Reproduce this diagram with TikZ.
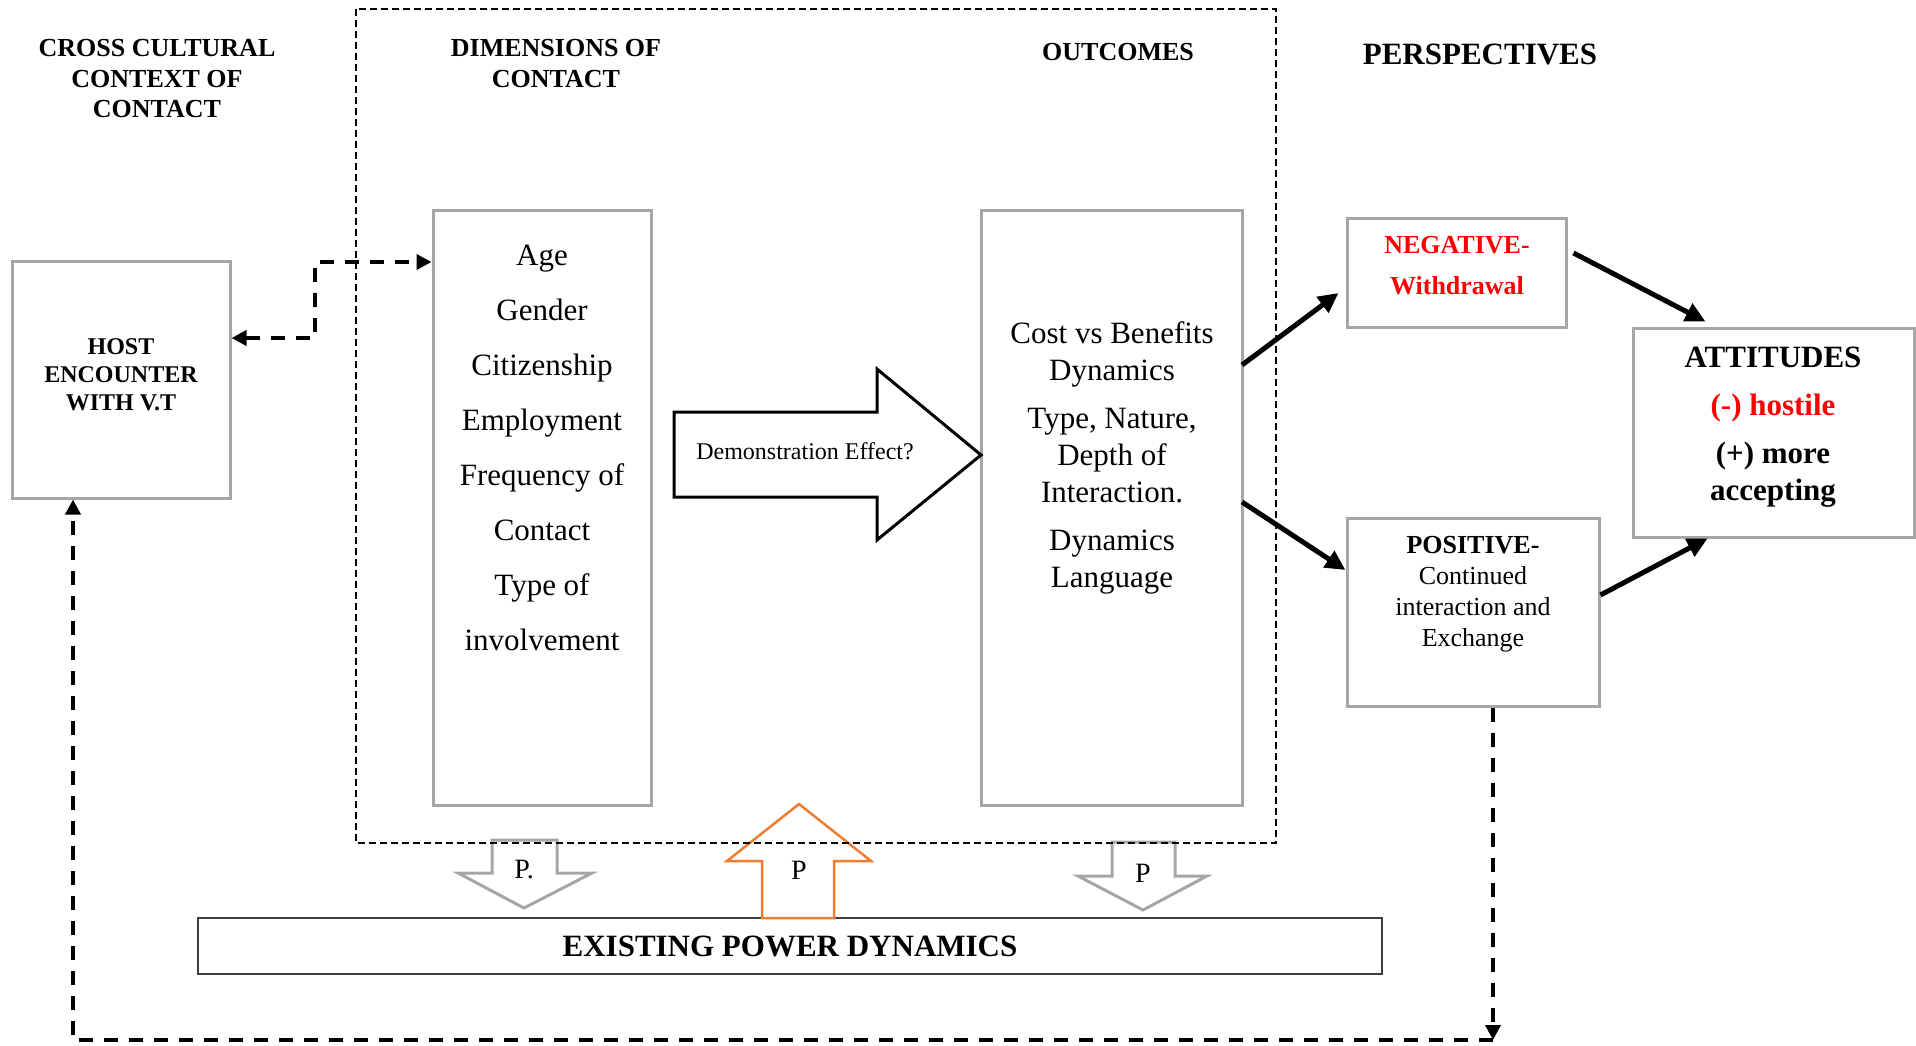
\documentclass[tikz,border=0pt]{standalone}
\usepackage{fontspec}
\setmainfont{Liberation Serif}
\usetikzlibrary{arrows.meta}
\definecolor{boxgray}{HTML}{A6A6A6}
\definecolor{negred}{HTML}{FF0000}
\definecolor{porange}{HTML}{ED7D31}
\definecolor{edgegray}{HTML}{404040}

\begin{document}
\begin{tikzpicture}[x=1pt, y=-1pt,
    gbox/.style={draw=boxgray, line width=3pt, inner sep=0pt, align=center},
    head/.style={font=\bfseries\fontsize{26}{30.5}\selectfont, align=center},
    big/.style={font=\fontsize{31}{37}\selectfont, align=center},
    link/.style={line width=4.5pt, dash pattern=on 14pt off 11pt, >={Triangle[length=15pt,width=15pt]}},
    flow/.style={line width=5pt, ->, >={Triangle[length=20pt,width=19pt]}},
    plabel/.style={font=\fontsize{28}{30}\selectfont}]

\useasboundingbox (0,0) rectangle (1916,1045);

% column headings
\node[head] (hcross) at (157,79) {CROSS CULTURAL\\CONTEXT OF\\CONTACT};
\node[head] (hdim) at (556,63.5) {DIMENSIONS OF\\CONTACT};
\node[head] (hout) at (1118,52) {OUTCOMES};
\node[head, font=\bfseries\fontsize{31}{36}\selectfont] (hpersp) at (1480,54) {PERSPECTIVES};

% boxes
\node[gbox, minimum width=218pt, minimum height=237pt] (host) at (121,379.5) {};
\node[align=center, font=\bfseries\fontsize{24}{28}\selectfont] (hosttext) at (121,375)
  {HOST\\ENCOUNTER\\WITH V.T};
\node[gbox, minimum width=218pt, minimum height=595pt] (dim) at (542,507.5) {};
\node[big, font=\fontsize{31}{55}\selectfont] (dimtext) at (542,447.5)
  {Age\\Gender\\Citizenship\\Employment\\Frequency of\\Contact\\Type of\\involvement};
\node[gbox, minimum width=261pt, minimum height=595pt] (outbox) at (1112,507.5) {};
\node[big] (outtext) at (1112,458)
  {Cost vs Benefits\\Dynamics\\[11pt]Type, Nature,\\Depth of\\Interaction.\\[11pt]Dynamics\\Language};
\node[gbox, minimum width=219pt, minimum height=109pt] (neg) at (1456.5,272.5) {};
\node[align=center, text=negred, font=\bfseries\fontsize{26}{41}\selectfont] (negtext) at (1457,265.5)
  {NEGATIVE-\\Withdrawal};
\node[gbox, minimum width=252pt, minimum height=188pt] (pos) at (1473,612) {};
\node[align=center, font=\fontsize{26}{31}\selectfont] (postext) at (1473,594)
  {\textbf{POSITIVE-}\\Continued\\interaction and\\Exchange};
\node[gbox, minimum width=281pt, minimum height=209pt] (att) at (1773.5,432.5) {};
\node[big, font=\bfseries\fontsize{31}{37}\selectfont] (atttext) at (1773,427.5)
  {ATTITUDES\\[11pt]{\color{negred}(-) hostile}\\[11pt](+) more\\accepting};
\node[draw=edgegray, line width=2pt, minimum width=1184pt, minimum height=56pt,
  font=\bfseries\fontsize{31}{36}\selectfont] (power) at (790,946) {EXISTING POWER DYNAMICS};

% demonstration effect arrow
\draw[line width=3pt] (674,412) -- (877,412) -- (877,369) -- (981,455) -- (877,540)
  -- (877,497) -- (674,497) -- cycle;
\node[font=\fontsize{24}{28}\selectfont] (demo) at (805,451) {Demonstration Effect?};

% P arrows
\draw[draw=boxgray, line width=3pt] (492,840) -- (557,840) -- (557,873) -- (592,873)
  -- (524,908) -- (458,873) -- (492,873) -- cycle;
\node[plabel] (p1) at (524,870) {P.};
\draw[draw=porange, line width=2.5pt] (762,918) -- (762,861) -- (727,861) -- (799,804)
  -- (871,861) -- (834,861) -- (834,918) -- cycle;
\node[plabel] (p2) at (799,870) {P};
\draw[draw=boxgray, line width=3pt] (1112,842) -- (1175,842) -- (1175,876) -- (1207,876)
  -- (1143,910) -- (1078,876) -- (1112,876) -- cycle;
\node[plabel] (p3) at (1143,873) {P};

% dimensions of contact frame
\draw[line width=2pt, dash pattern=on 7pt off 4pt] (356,9) rectangle (1276,843);

% connectors
\coordinate (hbend) at (315,300);
\draw[link,<->] ([yshift=41.5pt]host.east) -| (hbend) |- ([yshift=245.5pt]dim.west);
\draw[flow] ([yshift=142.5pt,xshift=-2pt]outbox.east) -- ([xshift=-7pt,yshift=-20.5pt]neg.west);
\draw[flow] ([yshift=5.5pt,xshift=-2pt]outbox.east) -- ([yshift=42pt]pos.west);
\draw[flow] ([xshift=6pt,yshift=19.5pt]neg.east) -- ([xshift=-68pt,yshift=5pt]att.north);
\draw[flow] ([yshift=17pt]pos.east) -- ([xshift=-66pt]att.south);
\coordinate (fbr) at (1493,1040);
\draw[link,->] ([xshift=20pt]pos.south) -- (fbr);
\draw[link,->] (fbr) -| ([xshift=-48pt]host.south);
\end{tikzpicture}
\end{document}
